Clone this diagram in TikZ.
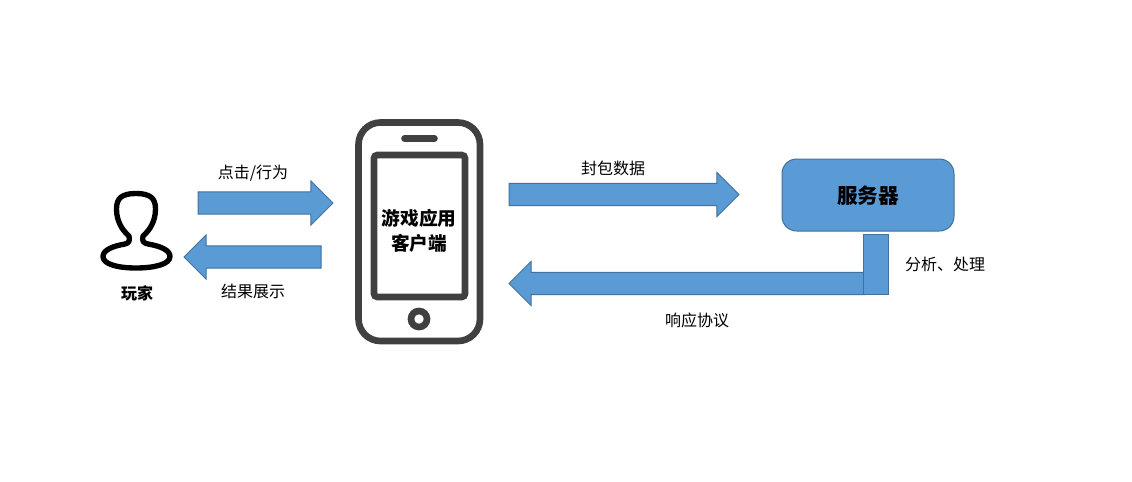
\documentclass[tikz,border=0pt]{standalone}
\usepackage{fontspec}
\setmainfont{Noto Sans CJK SC}
\usetikzlibrary{shapes.arrows}
\definecolor{blockblue}{HTML}{5B9BD5}
\definecolor{blockedge}{HTML}{41719C}
\definecolor{phonegray}{HTML}{404040}
\begin{document}
\begin{tikzpicture}[x=0.75pt ,y=-0.75pt ,
		blockarrow/.style ={ single arrow ,anchor =tip ,fill =blockblue ,draw =blockedge ,line width =0.75pt ,
			inner xsep =0pt ,inner ysep =7.9pt ,outer sep =0pt ,single arrow head extend =8.25pt},
		caption/.style ={ font =\fontsize{12pt}{14pt}\selectfont ,text =black ,inner sep =0pt},
		heading/.style ={ font =\fontsize{14pt}{18.5pt}\selectfont\bfseries ,text =black ,
			inner sep =0pt ,align =center},
		phoneline/.style ={ draw =phonegray ,line width =5pt}]
		\useasboundingbox (0,0) rectangle (1132,482);
		% player
		\draw[line width =4pt ,black ,line join =round] (129,236)
			.. controls (122,230) and (116.5,221) .. (116.5,209)
			.. controls (116.5,198) and (122,193.5) .. (136,193.5)
			.. controls (150,193.5) and (155.5,198) .. (155.5,209)
			.. controls (155.5,221) and (150,230) .. (143,236)
			.. controls (142,241) and (143,243) .. (148,244)
			.. controls (160,246) and (170,250) .. (170,256.5)
			.. controls (170,264) and (155,268) .. (136,268)
			.. controls (117,268) and (103,264) .. (103,256.5)
			.. controls (103,250) and (113,246) .. (125,244)
			.. controls (129,243) and (130,241) .. (129,236) -- cycle;
		\node[caption ,font =\fontsize{12pt}{14pt}\selectfont\bfseries] (player) at (137,293) {玩家};
		% phone
		\draw[phoneline ,rounded corners =16.5pt] (358.5,122.5) rectangle (480,341);
		\draw[phoneline ,rounded corners =2.5pt] (374,155) rectangle (465,297);
		\draw[phoneline ,line cap =round] (404.5,138.5) -- (434.5,138.5); % speaker
		\draw[phoneline] (419,319) circle (8); % button
		\node[heading] (client) at (419,231) {游戏应用\\客户端};
		% server
		\node[draw =blockedge ,fill =blockblue ,line width =0.75pt ,rounded corners =11pt ,
			minimum width =129pt ,minimum height =54pt ,inner sep =0pt] (server) at (868,195) {};
		\node[heading ,font =\fontsize{15.5pt}{18pt}\selectfont\bfseries] (servername) at (868,196) {服务器};
		% arrows
		\node[blockarrow ,minimum height =101.25pt] (click) at (333,203) {};
		\node[blockarrow ,shape border rotate =180 ,minimum height =102.75pt] (show) at (184,257) {};
		\node[blockarrow ,minimum height =172.5pt] (pack) at (739,194.5) {};
		\node[blockarrow ,shape border rotate =180 ,minimum height =267pt] (reply) at (509,283.5) {};
		\node[draw =blockedge ,fill =blockblue ,line width =0.75pt ,minimum width =18.75pt ,
			minimum height =45pt ,inner sep =0pt] (process) at (876,264) {};
		% labels
		\node[caption] (clicktext) at (253,173) {点击/行为};
		\node[caption] (showtext) at (253,291) {结果展示};
		\node[caption] (packtext) at (613,168) {封包数据};
		\node[caption] (processtext) at (945,264) {分析、处理};
		\node[caption] (replytext) at (697,320) {响应协议};
		\end{tikzpicture}
\end{document}
